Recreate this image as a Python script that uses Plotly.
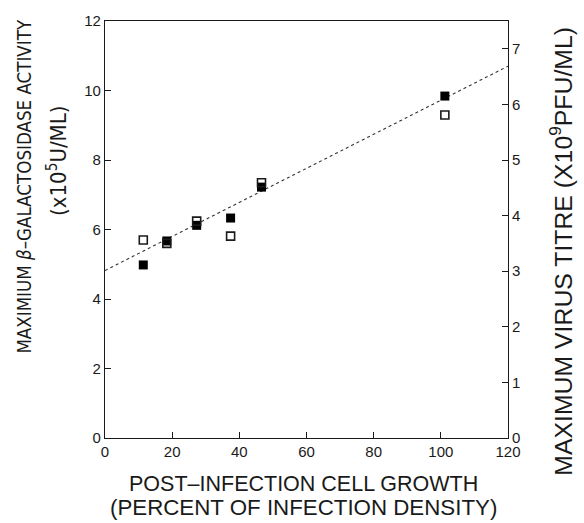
import plotly.graph_objects as go

# Data
growth = [11.4, 18.4, 27.3, 37.4, 46.6, 101.2]           # post-infection cell growth (%)
beta_gal = [4.98, 5.67, 6.12, 6.33, 7.22, 9.84]           # x10^5 U/ML (filled squares, left axis)
virus_titre = [3.56, 3.50, 3.90, 3.63, 4.59, 5.81]        # x10^9 PFU/ML (open squares, right axis)
fit_x = [0, 120]
fit_y = [4.82, 10.70]

x_ticks = [0, 20, 40, 60, 80, 100, 120]
y_ticks = [0, 2, 4, 6, 8, 10, 12]
y2_ticks = [0, 1, 2, 3, 4, 5, 6, 7]

FONT = "Liberation Sans"
NARROW = "Liberation Sans Narrow, DejaVu Sans Condensed, Liberation Sans"
INK = "#1a1a1a"

fig = go.Figure()
fig.add_trace(go.Scatter(x=fit_x, y=fit_y, mode="lines",
                         line=dict(color="#333", width=1.1, dash="dot"),
                         showlegend=False, hoverinfo="skip"))
fig.add_trace(go.Scatter(x=growth, y=virus_titre, mode="markers", yaxis="y2",
                         marker=dict(symbol="square-open", size=8, color=INK,
                                     line=dict(width=1.6, color=INK)),
                         showlegend=False))
fig.add_trace(go.Scatter(x=growth, y=beta_gal, mode="markers",
                         marker=dict(symbol="square", size=9, color="black",
                                     line=dict(width=0)),
                         showlegend=False))

axis_common = dict(showgrid=False, zeroline=False, showline=True, linecolor=INK,
                   linewidth=1.2, ticks="inside", ticklen=6, tickcolor=INK,
                   tickwidth=1.1, tickfont=dict(family=FONT, size=15, color=INK))

fig.update_layout(
    width=584, height=523,
    margin=dict(l=105, r=76, t=15, b=85),
    paper_bgcolor="white", plot_bgcolor="white",
    font=dict(family=FONT, color=INK),
    xaxis=dict(range=[0, 120], tickvals=x_ticks, mirror=True, **axis_common),
    yaxis=dict(range=[0, 12], tickvals=y_ticks, **axis_common),
    yaxis2=dict(range=[0, 7.5], tickvals=y2_ticks, overlaying="y", side="right",
                **axis_common),
)

ann = [
    dict(text="POST–INFECTION CELL GROWTH", x=0.493, y=(438 - 485) / 423,
         font=dict(family=FONT, size=21.5, color=INK)),
    dict(text="(PERCENT OF INFECTION DENSITY)", x=0.493, y=(438 - 509) / 423,
         font=dict(family=FONT, size=22.3, color=INK)),
    dict(text="MAXIMIUM <i>β</i>–GALACTOSIDASE ACTIVITY", x=(25 - 105) / 403,
         y=(438 - 183) / 423, textangle=-90,
         font=dict(family=NARROW, size=18.6, color=INK)),
    dict(text="(x10<sup>5</sup>U/ML)", x=(57 - 105) / 403,
         y=(438 - 157) / 423, textangle=-90,
         font=dict(family=NARROW, size=22, color=INK)),
    dict(text="MAXIMUM VIRUS TITRE (X10<sup>9</sup>PFU/ML)", x=(561 - 105) / 403,
         y=(438 - 249) / 423, textangle=-90,
         font=dict(family=FONT, size=24.8, color=INK)),
]
for a in ann:
    fig.add_annotation(xref="paper", yref="paper", showarrow=False,
                       xanchor="center", yanchor="middle", **a)

fig.write_html("out.html")
